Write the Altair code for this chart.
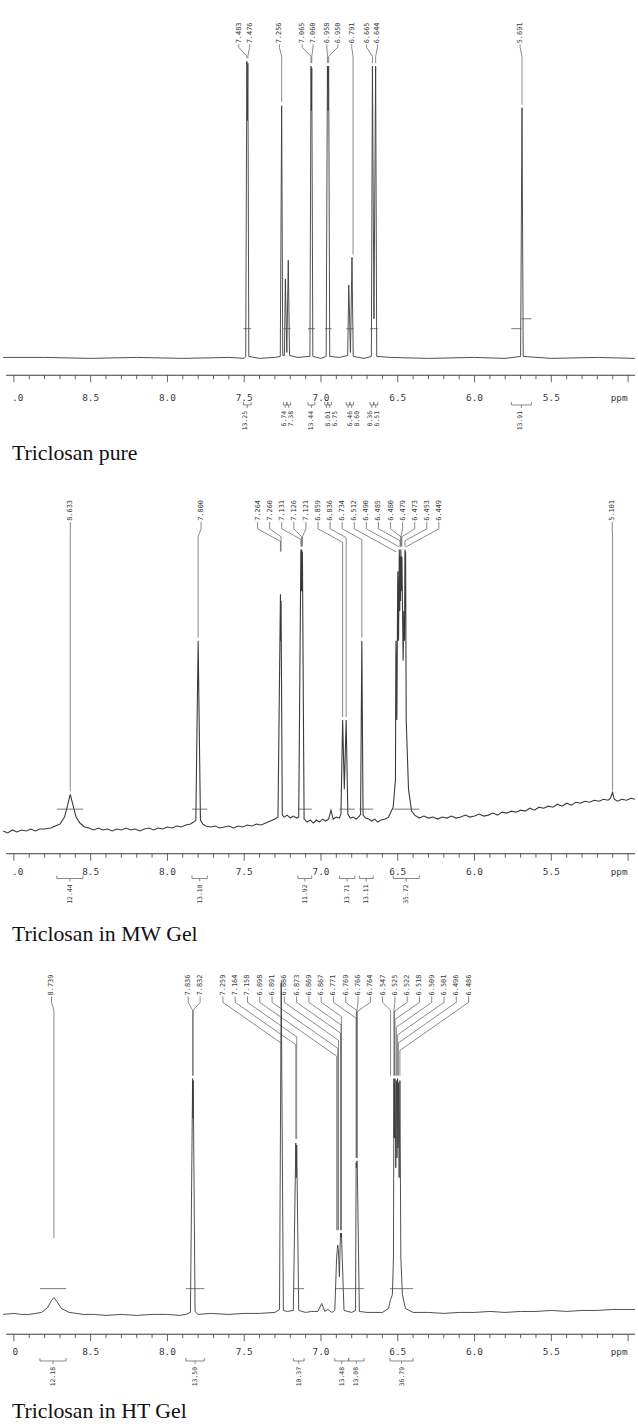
import altair as alt
import pandas as pd

# ============================================================== DATA
# ---------- Panel 1 : Triclosan pure ----------
P1_PEAK_LABELS = ["7.483", "7.476", "7.256", "7.065", "7.060", "6.958", "6.950",
                  "6.791", "6.665", "6.644", "5.691"]
P1_SPEC_PPM = [9.07, 8.80, 8.50, 8.20, 7.90, 7.60, 7.50, 7.490, 7.483, 7.4795, 7.476, 7.470,
               7.40, 7.30, 7.265, 7.256, 7.249, 7.238, 7.232, 7.2225, 7.213, 7.205, 7.15,
               7.072, 7.065, 7.0625, 7.060, 7.053, 7.00, 6.966, 6.958, 6.954, 6.950, 6.943,
               6.88, 6.826, 6.819, 6.808, 6.798, 6.790, 6.72, 6.672, 6.665, 6.655, 6.644,
               6.637, 6.55, 6.30, 6.00, 5.80, 5.700, 5.691, 5.683, 5.50, 5.20, 4.955]
P1_SPEC_INT = [1, 1, 0, 1, 0, 1, 0, 2, 300, 240, 298, 2,
               0, 1, 2, 255, 3, 3, 80, 6, 99, 3, 1,
               2, 295, 250, 293, 2, 0, 2, 295, 250, 295, 2,
               1, 3, 74, 6, 102, 2, 0, 2, 295, 40, 295,
               2, 1, 0, 1, 0, 2, 253, 2, 0, 1, 0]
P1_INT_FROM = [7.505, 7.245, 7.222, 7.085, 6.975, 6.955, 6.835, 6.812, 6.680, 6.656, 5.76]
P1_INT_TO = [7.455, 7.222, 7.198, 7.040, 6.955, 6.932, 6.812, 6.788, 6.656, 6.630, 5.63]
P1_INT_VAL = ["13.25", "6.74", "7.38", "13.44", "8.01", "6.75", "6.46", "8.60",
              "8.36", "6.51", "13.91"]
P1_CAPTION = "Triclosan pure"

# ---------- Panel 2 : Triclosan in MW Gel ----------
P2_PEAK_LABELS = ["8.633", "7.800", "7.264", "7.260", "7.131", "7.126", "7.121", "6.859",
                  "6.836", "6.734", "6.512", "6.490", "6.485", "6.480", "6.479", "6.473",
                  "6.453", "6.449", "5.101"]
P2_SPEC_PPM = [9.07, 9.04, 9.01, 8.98, 8.95, 8.92, 8.89, 8.86, 8.83, 8.80, 8.76, 8.73, 8.70,
               8.67, 8.65, 8.633, 8.615, 8.595, 8.57, 8.54, 8.51, 8.48, 8.45, 8.42, 8.39,
               8.36, 8.33, 8.30, 8.27, 8.24, 8.21, 8.18, 8.15, 8.12, 8.09, 8.06, 8.03, 8.00,
               7.97, 7.94, 7.91, 7.88, 7.85, 7.83, 7.815, 7.800, 7.785, 7.77, 7.75, 7.72,
               7.69, 7.66, 7.63, 7.60, 7.57, 7.54, 7.51, 7.48, 7.45, 7.42, 7.39, 7.36, 7.33,
               7.30, 7.28, 7.264, 7.262, 7.260, 7.252, 7.24, 7.22, 7.20, 7.18, 7.16, 7.145,
               7.131, 7.128, 7.126, 7.123, 7.121, 7.11, 7.09, 7.07, 7.05, 7.03, 7.01, 6.99,
               6.97, 6.95, 6.935, 6.92, 6.90, 6.88, 6.87, 6.859, 6.848, 6.836, 6.825, 6.81,
               6.79, 6.77, 6.75, 6.742, 6.734, 6.726, 6.71, 6.69, 6.67, 6.65, 6.63, 6.61,
               6.58, 6.56, 6.53, 6.515, 6.512, 6.506, 6.500, 6.495, 6.490, 6.487, 6.485,
               6.482, 6.480, 6.476, 6.473, 6.465, 6.460, 6.456, 6.453, 6.451, 6.449, 6.445,
               6.43, 6.41, 6.39, 6.36, 6.33, 6.30, 6.27, 6.24, 6.21, 6.18, 6.15, 6.12, 6.09,
               6.06, 6.03, 6.00, 5.97, 5.94, 5.91, 5.88, 5.85, 5.82, 5.79, 5.76, 5.73, 5.70,
               5.67, 5.64, 5.61, 5.58, 5.55, 5.52, 5.49, 5.46, 5.43, 5.40, 5.37, 5.34, 5.31,
               5.28, 5.25, 5.22, 5.19, 5.16, 5.13, 5.115, 5.101, 5.09, 5.07, 5.04, 5.01,
               4.98, 4.955]
P2_SPEC_INT = [8, 6, 9, 7, 9, 8, 10, 8, 10, 10, 11, 13, 15,
               22, 34, 45, 34, 22, 16, 12, 11, 9, 11, 9, 10,
               8, 10, 9, 11, 9, 10, 8, 10, 11, 9, 11, 10, 12,
               11, 13, 12, 14, 15, 17, 19, 200, 19, 15, 13, 12,
               13, 11, 12, 13, 11, 13, 12, 14, 13, 15, 14, 16, 18,
               20, 22, 247, 200, 240, 24, 22, 24, 21, 23, 21, 22,
               292, 250, 292, 250, 290, 20, 17, 19, 16, 19, 17, 20,
               18, 20, 29, 20, 22, 21, 25, 120, 50, 120, 25, 21,
               22, 20, 23, 25, 200, 24, 21, 20, 18, 20, 17, 19,
               20, 22, 32, 60, 200, 120, 270, 200, 292, 230, 285,
               240, 292, 250, 285, 180, 230, 200, 292, 260, 290, 120,
               50, 28, 24, 21, 23, 21, 22, 20, 22, 21, 23, 21, 22,
               24, 22, 23, 25, 23, 24, 26, 24, 27, 26, 28, 27, 29,
               28, 31, 29, 32, 31, 33, 32, 35, 33, 36, 34, 37, 36,
               38, 37, 39, 38, 40, 39, 41, 47, 40, 38, 40, 39,
               41, 40]
P2_INT_FROM = [8.72, 7.84, 7.15, 6.88, 6.75, 6.53]
P2_INT_TO = [8.55, 7.74, 7.06, 6.78, 6.66, 6.36]
P2_INT_VAL = ["12.44", "13.10", "11.92", "13.71", "13.11", "35.72"]
P2_CAPTION = "Triclosan in MW Gel"

# ---------- Panel 3 : Triclosan in HT Gel ----------
P3_PEAK_LABELS = ["8.739", "7.836", "7.832", "7.259", "7.164", "7.158", "6.898", "6.891",
                  "6.886", "6.873", "6.869", "6.867", "6.771", "6.769", "6.766", "6.764",
                  "6.547", "6.525", "6.522", "6.518", "6.509", "6.501", "6.496", "6.486"]
P3_SPEC_PPM = [9.07, 9.00, 8.95, 8.90, 8.86, 8.82, 8.78, 8.755, 8.739, 8.72, 8.69, 8.64,
               8.59, 8.55, 8.48, 8.40, 8.30, 8.20, 8.10, 8.00, 7.92, 7.88, 7.85, 7.836,
               7.834, 7.832, 7.82, 7.80, 7.72, 7.60, 7.50, 7.40, 7.30, 7.27, 7.259, 7.245,
               7.22, 7.18, 7.164, 7.161, 7.158, 7.145, 7.10, 7.06, 7.02, 6.995, 6.975,
               6.955, 6.93, 6.91, 6.898, 6.891, 6.886, 6.880, 6.873, 6.869, 6.867, 6.85,
               6.80, 6.775, 6.771, 6.769, 6.766, 6.764, 6.75, 6.70, 6.60, 6.56, 6.547,
               6.535, 6.528, 6.525, 6.5235, 6.522, 6.520, 6.518, 6.513, 6.509, 6.505,
               6.501, 6.4985, 6.496, 6.491, 6.486, 6.480, 6.47, 6.45, 6.40, 6.30, 6.20,
               6.10, 6.00, 5.90, 5.80, 5.70, 5.60, 5.50, 5.40, 5.30, 5.20, 5.10, 4.955]
P3_SPEC_INT = [2, 3, 2, 2, 3, 4, 9, 16, 19, 15, 8, 4,
               3, 2, 2, 1, 2, 1, 2, 2, 1, 2, 4, 240,
               200, 238, 5, 2, 3, 2, 3, 3, 4, 7, 337, 6,
               5, 6, 175, 140, 173, 6, 4, 5, 5, 13, 5,
               7, 4, 6, 60, 72, 65, 40, 84, 80, 84, 6,
               4, 6, 155, 150, 157, 155, 5, 4, 4, 8, 17,
               22, 60, 240, 180, 235, 180, 240, 150, 238, 160,
               240, 170, 236, 140, 238, 60, 22, 8, 4, 4, 3,
               4, 4, 5, 4, 5, 5, 6, 5, 6, 6, 7, 7]
P3_INT_FROM = [8.83, 7.88, 7.18, 6.91, 6.82, 6.55]
P3_INT_TO = [8.66, 7.76, 7.11, 6.82, 6.72, 6.40]
P3_INT_VAL = ["12.18", "13.50", "10.37", "13.48", "13.08", "36.79"]
P3_CAPTION = "Triclosan in HT Gel"

AXIS_MAJOR = [9.0, 8.5, 8.0, 7.5, 7.0, 6.5, 6.0, 5.5]
AXIS_MAJOR_TEXT = ["9.0", "8.5", "8.0", "7.5", "7.0", "6.5", "6.0", "5.5"]

# ============================================================== LAYOUT
W = 638
X_LEFT = 9.0 + 11.0 / 155.0      # ppm at the left edge
X_RIGHT = 9.0 - 627.0 / 155.0    # ppm at the right edge


def ppm_of_px(px):
    return 9.0 - (px - 11.0) / 155.0


def px_of_ppm(p):
    return 11.0 + (9.0 - p) * 155.0


INK = "#3a3a3a"
LINE = "#555555"
MONO = "DejaVu Sans Mono"
SERIF = "Liberation Serif"

PANELS = [
    dict(y0=0, y1=470, base=355, lab_y=37, stub=41, slope=0.5, mindy=9,
         label_px=[238, 249, 279, 302, 313, 327, 338, 352, 367, 378, 522],
         ends=[52, 52, 96, 57, 57, 57, 57, 250, 57, 57, 99],
         int_y=325, int_step=[(10, 315)], axis_y=372, tick_lab_y=395, brack_y=402,
         int_label_px=[244, 284, 291, 311, 328, 335, 350, 357, 371, 378, 522],
         cap_y=451, first_text=".0", first_ppm=8.975, sw=0.9,
         labels=P1_PEAK_LABELS, sppm=P1_SPEC_PPM, sint=P1_SPEC_INT,
         ifrom=P1_INT_FROM, ito=P1_INT_TO, ival=P1_INT_VAL, caption=P1_CAPTION),
    dict(y0=470, y1=960, base=840, lab_y=519, stub=527, slope=0.55, mindy=8,
         label_px=[68, 200] + [257 + 12.2 * k for k in range(16)] + [615],
         ends=[792, 637, 550, 550, 545, 545, 545, 717, 717, 637] + [545] * 8 + [791],
         int_y=810, int_step=[], axis_y=855, tick_lab_y=873, brack_y=880,
         int_label_px=None,
         cap_y=936, first_text=".0", first_ppm=8.975, sw=1.1,
         labels=P2_PEAK_LABELS, sppm=P2_SPEC_PPM, sint=P2_SPEC_INT,
         ifrom=P2_INT_FROM, ito=P2_INT_TO, ival=P2_INT_VAL, caption=P2_CAPTION),
    dict(y0=960, y1=1440, base=1322, lab_y=998, stub=1005, slope=0.7, mindy=8,
         label_px=[49, 187, 199] + [222 + 12.4 * k for k in range(21)],
         ends=[1243, 1079, 1079, 990, 1143, 1143] + [1235] * 6 + [1162] * 4 + [1079] * 8,
         int_y=1294, int_step=[], axis_y=1340, tick_lab_y=1358, brack_y=1367,
         int_label_px=None,
         cap_y=1418, first_text="0", first_ppm=8.99, sw=0.9,
         labels=P3_PEAK_LABELS, sppm=P3_SPEC_PPM, sint=P3_SPEC_INT,
         ifrom=P3_INT_FROM, ito=P3_INT_TO, ival=P3_INT_VAL, caption=P3_CAPTION),
]


def make_panel(c):
    y0, y1 = c["y0"], c["y1"]
    xs = alt.Scale(domain=[X_LEFT, X_RIGHT], nice=False, zero=False)
    ys = alt.Scale(domain=[y1, y0], nice=False, zero=False)

    def X(f="ppm"):
        return alt.X(f"{f}:Q", scale=xs, axis=None)

    def Y(f="y"):
        return alt.Y(f"{f}:Q", scale=ys, axis=None)

    # spectrum trace
    spec = pd.DataFrame({"ppm": c["sppm"], "inten": c["sint"],
                         "i": list(range(len(c["sppm"])))})
    spec_layer = alt.Chart(spec).transform_calculate(
        y=f"{c['base']} - datum.inten"
    ).mark_line(color=INK, strokeWidth=c["sw"]).encode(x=X(), y=Y(), order="i:Q")

    # peak labels
    lab_ppm = [ppm_of_px(px) for px in c["label_px"]]
    labels = pd.DataFrame({"ppm": lab_ppm, "y": [c["lab_y"]] * len(lab_ppm),
                           "text": c["labels"]})
    lab_layer = alt.Chart(labels).mark_text(
        angle=270, align="left", baseline="middle", font=MONO, fontSize=7, color=INK
    ).encode(x=X(), y=Y(), text="text:N")

    # connectors label -> peak
    rows = []
    for k, (lp, txt, ye) in enumerate(zip(lab_ppm, c["labels"], c["ends"])):
        pp = float(txt)
        dx = abs(px_of_ppm(pp) - px_of_ppm(lp))
        ydiag = c["stub"] + max(c["mindy"], c["slope"] * dx)
        pts = [(lp, c["lab_y"] + 1), (lp, c["stub"]), (pp, ydiag), (pp, max(ye, ydiag))]
        for j, (px_, py_) in enumerate(pts):
            rows.append({"id": k, "i": j, "ppm": px_, "y": py_})
    conn_layer = alt.Chart(pd.DataFrame(rows)).mark_line(
        color=LINE, strokeWidth=0.7
    ).encode(x=X(), y=Y(), detail="id:N", order="i:Q")

    # integral marks on the trace
    imarks = []
    for a, b in zip(c["ifrom"], c["ito"]):
        imarks.append({"ppm": a, "ppm2": b, "y": c["int_y"]})
    for (k, yy) in c["int_step"]:
        a, b = c["ifrom"][k], c["ito"][k]
        mid = (a + b) / 2
        imarks[k] = {"ppm": a, "ppm2": mid, "y": c["int_y"]}
        imarks.append({"ppm": mid, "ppm2": b, "y": yy})
    imark_layer = alt.Chart(pd.DataFrame(imarks)).mark_rule(
        color=LINE, strokeWidth=0.8
    ).encode(x=X(), x2="ppm2:Q", y=Y())

    # axis line + ticks
    ax = pd.DataFrame({"ppm": [9.05], "ppm2": [X_RIGHT], "y": [c["axis_y"]]})
    ax_layer = alt.Chart(ax).mark_rule(color=INK, strokeWidth=1).encode(
        x=X(), x2="ppm2:Q", y=Y())
    tick_ppm = [round(9.0 - 0.1 * k, 1) for k in range(41)]
    ticks = pd.DataFrame({
        "ppm": tick_ppm,
        "y": [c["axis_y"]] * len(tick_ppm),
        "y2": [c["axis_y"] + (7 if abs(p * 2 - round(p * 2)) < 1e-6 else 4) for p in tick_ppm],
    })
    tick_layer = alt.Chart(ticks).mark_rule(color=INK, strokeWidth=0.8).encode(
        x=X(), y=Y(), y2="y2:Q")
    tl_ppm = [c["first_ppm"]] + AXIS_MAJOR[1:] + [ppm_of_px(622)]
    tl_txt = [c["first_text"]] + AXIS_MAJOR_TEXT[1:] + ["ppm"]
    tl = pd.DataFrame({"ppm": tl_ppm, "y": [c["tick_lab_y"]] * len(tl_ppm), "text": tl_txt})
    tl_layer = alt.Chart(tl).mark_text(
        font=MONO, fontSize=9.5, color=INK, align="center", baseline="middle"
    ).encode(x=X(), y=Y(), text="text:N")

    # integral brackets
    brows = []
    by = c["brack_y"]
    for k, (a, b) in enumerate(zip(c["ifrom"], c["ito"])):
        m = (a + b) / 2
        pts = [(a, by - 3), (a, by), (b, by), (b, by - 3)]
        for j, (px_, py_) in enumerate(pts):
            brows.append({"id": f"b{k}", "i": j, "ppm": px_, "y": py_})
        brows.append({"id": f"s{k}", "i": 0, "ppm": m, "y": by})
        brows.append({"id": f"s{k}", "i": 1, "ppm": m, "y": by + 3})
    br_layer = alt.Chart(pd.DataFrame(brows)).mark_line(
        color=LINE, strokeWidth=0.7
    ).encode(x=X(), y=Y(), detail="id:N", order="i:Q")

    if c["int_label_px"] is not None:
        il_ppm = [ppm_of_px(px) for px in c["int_label_px"]]
    else:
        il_ppm = [(a + b) / 2 for a, b in zip(c["ifrom"], c["ito"])]
    il = pd.DataFrame({"ppm": il_ppm, "y": [by + 6] * len(il_ppm), "text": c["ival"]})
    il_layer = alt.Chart(il).mark_text(
        angle=270, align="right", baseline="middle", font=MONO, fontSize=6.5, color=INK
    ).encode(x=X(), y=Y(), text="text:N")

    # caption
    cap = pd.DataFrame({"ppm": [ppm_of_px(9)], "y": [c["cap_y"]], "text": [c["caption"]]})
    cap_layer = alt.Chart(cap).mark_text(
        font=SERIF, fontSize=22, color="#111111", align="left", baseline="middle"
    ).encode(x=X(), y=Y(), text="text:N")

    return alt.layer(
        spec_layer, conn_layer, lab_layer, imark_layer, ax_layer, tick_layer,
        tl_layer, br_layer, il_layer, cap_layer
    ).properties(width=W, height=y1 - y0)


panels = [make_panel(c) for c in PANELS]
chart = alt.vconcat(*panels, spacing=0).properties(
    padding=0, background="white"
).configure_view(stroke=None)

chart.save("out.html", embed_options={"renderer": "svg", "actions": False})
